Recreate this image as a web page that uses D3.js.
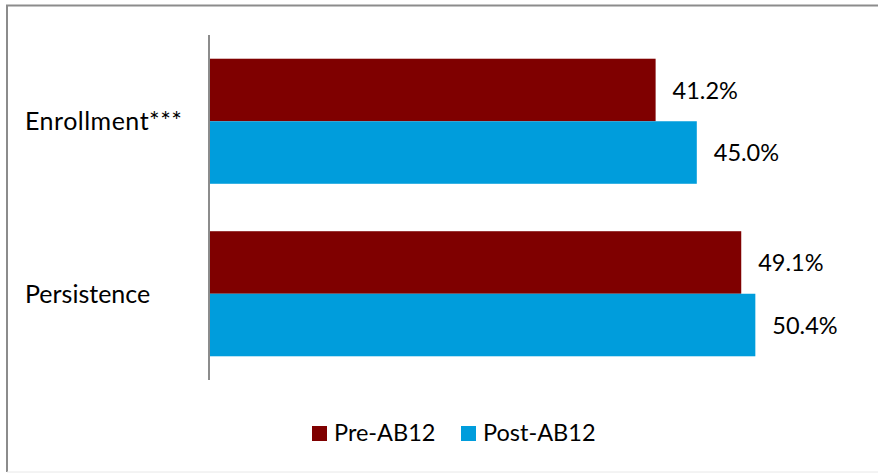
<!DOCTYPE html>
<html><head><meta charset="utf-8">
<script src="https://cdn.jsdelivr.net/npm/d3@7"></script>
<style>body{margin:0;background:#fff}svg{display:block}</style>
</head><body>
<script>
const categories = ["Enrollment***", "Persistence"];
const seriesNames = ["Pre-AB12", "Post-AB12"];
const preValues = [41.2, 49.1];
const postValues = [45.0, 50.4];
const colors = ["#7f0000", "#009ddc"];

const W = 878, H = 473;
const font = "Lato, 'Open Sans', sans-serif";
const svg = d3.select("body").append("svg").attr("width", W).attr("height", H);

// outer border
svg.append("line").attr("x1", 6).attr("x2", W).attr("y1", 5.5).attr("y2", 5.5).attr("stroke", "#8c8c8c").attr("stroke-width", 2);
svg.append("line").attr("x1", 7).attr("x2", 7).attr("y1", 5).attr("y2", 472).attr("stroke", "#8c8c8c").attr("stroke-width", 2);
svg.append("line").attr("x1", 7).attr("x2", W).attr("y1", 472).attr("y2", 472).attr("stroke", "#e8e8e8").attr("stroke-width", 1);

const x0 = 209, xPer = 10.84;
const x = d3.scaleLinear().domain([0, 60]).range([x0, x0 + 60 * xPer]);
const y = d3.scaleBand().domain(categories).range([35, 380]).paddingInner(0.275).paddingOuter(0.1375);
const ySub = d3.scaleBand().domain(seriesNames).range([0, y.bandwidth()]);

const data = categories.map((c, i) => ({cat: c, vals: [preValues[i], postValues[i]]}));

const g = svg.append("g");
data.forEach(d => {
  d.vals.forEach((v, j) => {
    const yy = y(d.cat) + ySub(seriesNames[j]);
    g.append("rect").attr("x", x(0)).attr("y", yy).attr("width", x(v) - x(0)).attr("height", ySub.bandwidth()).attr("fill", colors[j]);
    g.append("text").attr("x", x(v) + 17).attr("y", yy + ySub.bandwidth() / 2 + 3)
      .attr("dominant-baseline", "middle").attr("font-family", font).attr("font-size", 23.5).attr("fill", "#000")
      .text(v.toFixed(1) + "%");
  });
});

// y axis
const yAxis = d3.axisLeft(y).tickSize(0).tickPadding(0);
const ax = svg.append("g").attr("transform", `translate(${x0},0)`).call(yAxis);
ax.select(".domain").attr("stroke", "#8c8c8c").attr("stroke-width", 2).attr("d", "M0,35V380");
ax.selectAll("text").attr("font-family", font).attr("font-size", 25).attr("fill", "#000")
  .attr("text-anchor", "start").attr("x", 25 - x0).attr("dy", "0.35em");
ax.selectAll(".tick").filter(d => d === "Enrollment***").select("text")
  .attr("textLength", 157).attr("lengthAdjust", "spacing");

// legend
const legX = [312, 461];
seriesNames.forEach((s, j) => {
  svg.append("rect").attr("x", legX[j]).attr("y", 426).attr("width", 15).attr("height", 15).attr("fill", colors[j]);
  svg.append("text").attr("x", legX[j] + 22).attr("y", 435).attr("dominant-baseline", "middle")
    .attr("font-family", font).attr("font-size", 23.5).attr("fill", "#000").text(s);
});
</script>
</body></html>
